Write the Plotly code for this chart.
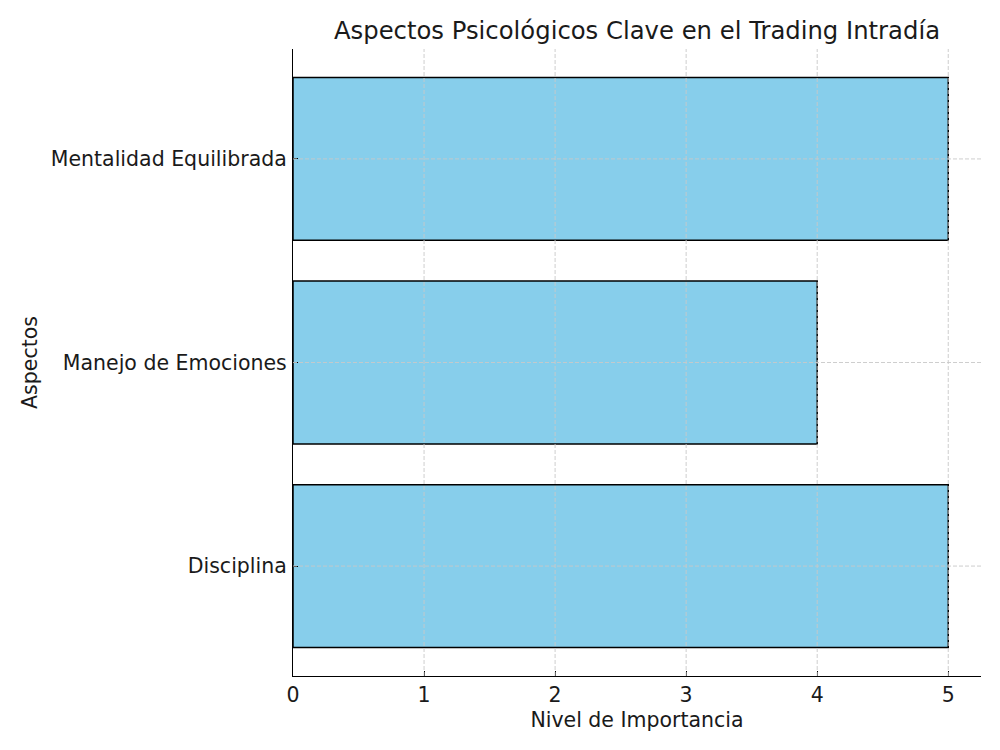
import plotly.graph_objects as go

categories = ["Disciplina", "Manejo de Emociones", "Mentalidad Equilibrada"]
values = [5, 4, 5]
x_ticks = [0, 1, 2, 3, 4, 5]

FONT = "DejaVu Sans"
TXT = "#1a1a1a"
GRID = "#c8c8c8"

fig = go.Figure()
fig.add_trace(go.Bar(
    y=categories, x=values, orientation="h", width=0.8,
    marker=dict(color="#87CEEB", line=dict(color="black", width=1.5)),
))

shapes = []
for t in x_ticks[1:]:
    shapes.append(dict(type="line", xref="x", yref="paper", x0=t, x1=t, y0=0, y1=1,
                       line=dict(color=GRID, width=0.9, dash="4px,2px"), layer="above"))
for c in categories:
    shapes.append(dict(type="line", xref="paper", yref="y", x0=0, x1=1, y0=c, y1=c,
                       line=dict(color=GRID, width=0.9, dash="4px,2px"), layer="above"))

fig.update_layout(
    width=1000, height=750,
    margin=dict(l=285, r=27, t=41, b=82),
    paper_bgcolor="white", plot_bgcolor="white",
    font=dict(family=FONT, color=TXT, size=20.5),
    title=dict(text="Aspectos Psicológicos Clave en el Trading Intradía",
               x=(285 + 1000 - 27) / 2 / 1000, xanchor="center", y=1 - 22 / 750, yanchor="middle",
               font=dict(size=24.3, color=TXT)),
    showlegend=False,
    shapes=shapes,
    bargap=0.2,
)
fig.update_xaxes(
    range=[0, 5.25], tickvals=x_ticks, ticks="inside", ticklen=5, tickcolor="black",
    showline=True, linecolor="black", linewidth=1.2, showgrid=False, zeroline=False,
    title=dict(text="Nivel de Importancia", font=dict(size=20.5), standoff=6),
    tickfont=dict(size=20.5), ticklabelstandoff=0,
)
fig.update_yaxes(
    range=[-0.54, 2.54], ticks="inside", ticklen=5, tickcolor="black",
    showline=True, linecolor="black", linewidth=1.2, showgrid=False, zeroline=False,
    title=dict(text="Aspectos", font=dict(size=20.5), standoff=7),
    tickfont=dict(size=20.5), categoryorder="array", categoryarray=categories,
    ticklabelstandoff=1,
)

fig.write_html("out.html")
